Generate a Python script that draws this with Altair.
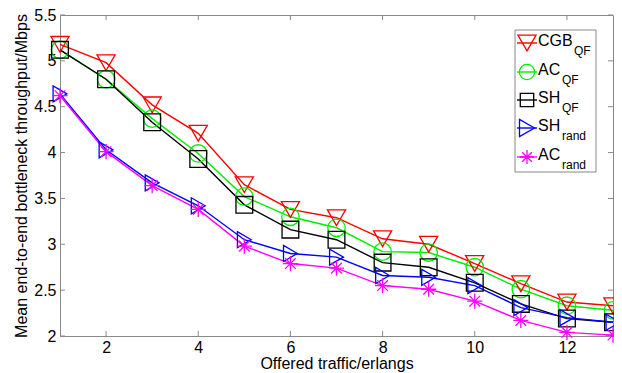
import altair as alt
import pandas as pd

traffic = list(range(1, 14))
series = ["CGB_QF", "AC_QF", "SH_QF", "SH_rand", "AC_rand"]
cgb_qf = [5.18, 4.98, 4.52, 4.21, 3.65, 3.38, 3.29, 3.06, 3.00, 2.79, 2.57, 2.37, 2.33]
ac_qf = [5.12, 4.80, 4.37, 3.99, 3.52, 3.30, 3.18, 2.92, 2.91, 2.75, 2.51, 2.33, 2.28]
sh_qf = [5.12, 4.80, 4.33, 3.93, 3.43, 3.16, 3.05, 2.80, 2.75, 2.58, 2.35, 2.19, 2.15]
sh_rand = [4.64, 4.03, 3.67, 3.42, 3.05, 2.90, 2.86, 2.66, 2.64, 2.55, 2.31, 2.20, 2.15]
ac_rand = [4.62, 4.01, 3.64, 3.38, 2.98, 2.79, 2.74, 2.55, 2.51, 2.38, 2.17, 2.04, 2.01]
legend_main = ["CGB", "AC", "SH", "SH", "AC"]
legend_sub = ["QF", "QF", "QF", "rand", "rand"]
x_ticks = [2, 4, 6, 8, 10, 12]
y_ticks = [2.0, 2.5, 3.0, 3.5, 4.0, 4.5, 5.0, 5.5]

values = [cgb_qf, ac_qf, sh_qf, sh_rand, ac_rand]
rows = []
for s, vals in zip(series, values):
    for t, v in zip(traffic, vals):
        rows.append({"traffic": t, "throughput": v, "series": s})
df = pd.DataFrame(rows)

colors = ["#ff0000", "#00ee00", "#000000", "#0000ff", "#ff00ff"]
asterisk = "M-1,0L1,0M0,-1L0,1M-0.7,-0.7L0.7,0.7M-0.7,0.7L0.7,-0.7"
shapes = ["triangle-down", "circle", "square", "triangle-right", asterisk]
sizes = [330, 230, 180, 300, 190]

W, H = 553, 321
FONT = "Liberation Sans"

xs = alt.Scale(domain=[1, 13], nice=False, zero=False)
ys = alt.Scale(domain=[2, 5.5], nice=False, zero=False)
color = alt.Color("series:N", scale=alt.Scale(domain=series, range=colors), legend=None)
shape = alt.Shape("series:N", scale=alt.Scale(domain=series, range=shapes), legend=None)
size = alt.Size("series:N", scale=alt.Scale(domain=series, range=sizes), legend=None)

base = alt.Chart(df)
lines = base.mark_line(strokeWidth=1.4).encode(
    x=alt.X("traffic:Q", scale=xs,
            axis=alt.Axis(values=x_ticks, title="Offered traffic/erlangs", ticks=False,
                          domain=False, grid=False, labelPadding=3, titlePadding=0,
                          labelFontSize=16, titleFontSize=16, labelFont=FONT,
                          titleFont=FONT, titleFontWeight="normal", labelColor="black",
                          titleColor="black")),
    y=alt.Y("throughput:Q", scale=ys,
            axis=alt.Axis(values=y_ticks, title="Mean end-to-end bottleneck throughput/Mbps",
                          ticks=False, domain=False, grid=False, labelPadding=4,
                          titlePadding=4, labelFontSize=16, titleFontSize=16,
                          labelFont=FONT, titleFont=FONT, titleFontWeight="normal",
                          labelColor="black", titleColor="black",
                          labelExpr="datum.value == 2 || datum.value==3 || datum.value==4 || datum.value==5 ? format(datum.value, 'd') : format(datum.value, '.1f')")),
    color=color,
    detail="series:N",
)
points = base.mark_point(filled=False, strokeWidth=1.3, opacity=1).encode(
    x=alt.X("traffic:Q", scale=xs),
    y=alt.Y("throughput:Q", scale=ys),
    color=color, shape=shape, size=size,
)

tick_color = "#888888"
xt = pd.DataFrame({"t": x_ticks})
yt = pd.DataFrame({"t": y_ticks})
ticks_bottom = alt.Chart(xt).mark_rule(color=tick_color, strokeWidth=1).encode(
    x=alt.X("t:Q", scale=xs), y=alt.value(H), y2=alt.value(H - 5))
ticks_top = alt.Chart(xt).mark_rule(color=tick_color, strokeWidth=1).encode(
    x=alt.X("t:Q", scale=xs), y=alt.value(0), y2=alt.value(5))
ticks_left = alt.Chart(yt).mark_rule(color=tick_color, strokeWidth=1).encode(
    y=alt.Y("t:Q", scale=ys), x=alt.value(0), x2=alt.value(5))
ticks_right = alt.Chart(yt).mark_rule(color=tick_color, strokeWidth=1).encode(
    y=alt.Y("t:Q", scale=ys), x=alt.value(W), x2=alt.value(W - 5))

layers = [ticks_bottom, ticks_top, ticks_left, ticks_right, lines, points]

# custom legend with subscripts
one = pd.DataFrame({"a": [0]})
layers.append(alt.Chart(one).mark_rect(fill="white", stroke=tick_color, strokeWidth=1).encode(
    x=alt.value(455), x2=alt.value(536), y=alt.value(15), y2=alt.value(157)))
entry_y = [28, 57, 85, 113, 142]
sub_x = [514, 502, 502, 502, 502]
for i, s in enumerate(series):
    ey = entry_y[i]
    ldf = pd.DataFrame({"main": [legend_main[i]], "sub": [legend_sub[i]]})
    lc = alt.Chart(ldf)
    layers.append(lc.mark_rule(color=colors[i], strokeWidth=1.4).encode(
        x=alt.value(457), x2=alt.value(477), y=alt.value(ey)))
    layers.append(lc.mark_point(filled=False, strokeWidth=1.3, color=colors[i],
                                shape=shapes[i], size=sizes[i], opacity=1).encode(
        x=alt.value(467), y=alt.value(ey)))
    layers.append(lc.mark_text(align="left", baseline="middle", fontSize=16, font=FONT,
                               color="black").encode(
        x=alt.value(478), y=alt.value(ey - 2), text="main:N"))
    layers.append(lc.mark_text(align="left", baseline="middle", fontSize=12, font=FONT,
                               color="black").encode(
        x=alt.value(sub_x[i]), y=alt.value(ey + 8), text="sub:N"))

chart = alt.layer(*layers).properties(
    width=W, height=H,
    autosize=alt.AutoSizeParams(type="none"),
    padding={"left": 52, "top": 7, "right": 1, "bottom": 36},
    background="white",
).configure_view(stroke=tick_color, strokeWidth=1)

chart.save("out.html", embed_options={"renderer": "svg", "actions": False})
